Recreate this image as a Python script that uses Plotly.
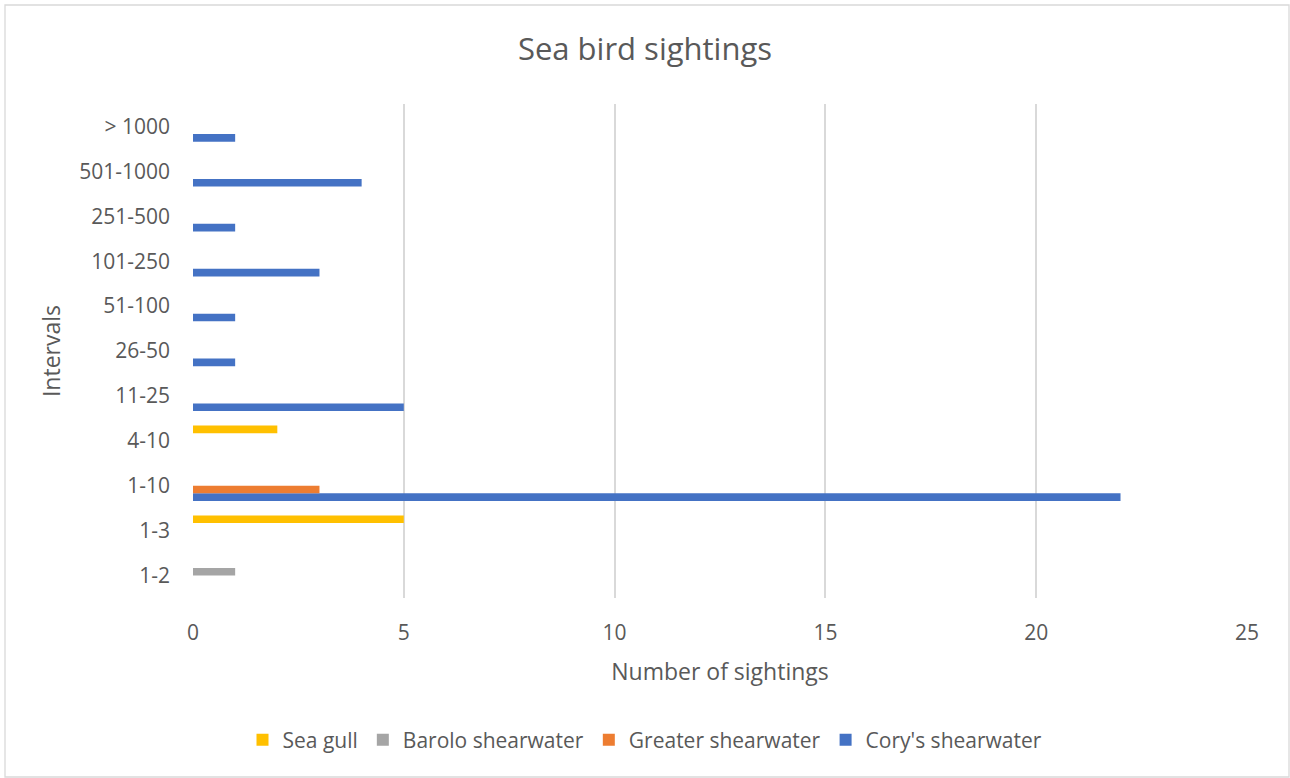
import plotly.graph_objects as go

# Interval categories, bottom to top
categories = ["1-2", "1-3", "1-10", "4-10", "11-25", "26-50",
              "51-100", "101-250", "251-500", "501-1000", "> 1000"]

# Number of sightings per species (None = no sighting in that interval)
sea_gull = [None, 5, None, 2, None, None, None, None, None, None, None]
barolo_shearwater = [1, None, None, None, None, None, None, None, None, None, None]
greater_shearwater = [None, None, 3, None, None, None, None, None, None, None, None]
corys_shearwater = [None, None, 22, None, 5, 1, 1, 3, 1, 4, 1]

x_ticks = [0, 5, 10, 15, 20, 25]

TEXT = "#595959"
GRID = "#D9D9D9"
FONT = "Open Sans"

# Traces are added bottom-to-top within each group; legend shows them reversed
series = [
    ("Cory's shearwater", corys_shearwater, "#4472C4"),
    ("Greater shearwater", greater_shearwater, "#ED7D31"),
    ("Barolo shearwater", barolo_shearwater, "#A5A5A5"),
    ("Sea gull", sea_gull, "#FFC000"),
]

fig = go.Figure()
for name, vals, color in series:
    fig.add_trace(go.Bar(
        y=categories, x=vals, name=name, orientation="h",
        marker=dict(color=color, line=dict(width=0)),
    ))

W, H = 1290, 778
ml, mr, mt, mb = 193, 43, 104, 180
pw, ph = W - ml - mr, H - mt - mb

def px_x(p):
    return (p - ml) / pw

def px_y(p):
    return (H - mb - p) / ph

fig.update_layout(
    width=W, height=H,
    margin=dict(l=ml, r=mr, t=mt, b=mb, pad=0),
    paper_bgcolor="white", plot_bgcolor="white",
    font=dict(family=FONT, color=TEXT, size=21),
    barmode="group", bargap=0.323, bargroupgap=0,
    title=dict(text="Sea bird sightings", x=0.5, xanchor="center",
               xref="container", y=1 - 49 / H, yanchor="middle",
               yref="container", font=dict(size=31, color=TEXT, family=FONT)),
    xaxis=dict(
        range=[0, 25], tickvals=x_ticks, showgrid=True, gridcolor=GRID,
        gridwidth=1.6, zeroline=False, showline=False,
        ticks="", ticklabelstandoff=20,
        tickfont=dict(size=21, color=TEXT),
        title=dict(text="Number of sightings", standoff=18,
                   font=dict(size=23, color=TEXT)),
    ),
    yaxis=dict(
        type="category", categoryorder="array", categoryarray=categories,
        showgrid=False, zeroline=False, showline=False, ticks="",
        ticklabelstandoff=22,
        tickfont=dict(size=21, color=TEXT),
        title=dict(text="Intervals", standoff=12,
                   font=dict(size=23, color=TEXT)),
    ),
    legend=dict(
        orientation="h", traceorder="reversed",
        x=0.5, xanchor="center", xref="container",
        y=1 - 740 / H, yanchor="middle", yref="container",
        font=dict(size=21, color=TEXT), itemwidth=30,
    ),
    showlegend=True,
)

# Thin frame around the whole chart
fig.add_shape(type="rect", xref="paper", yref="paper",
              x0=px_x(5), x1=px_x(1289), y0=px_y(777), y1=px_y(5),
              line=dict(color=GRID, width=1.3), fillcolor="rgba(0,0,0,0)",
              layer="below")

fig.write_html("out.html", config={"displayModeBar": False})
